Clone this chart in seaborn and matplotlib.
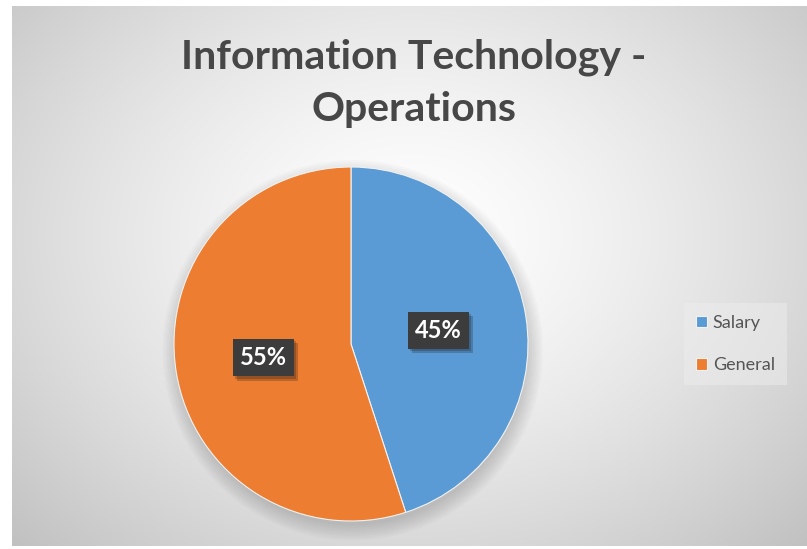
import numpy as np
import matplotlib
matplotlib.use("Agg")
import matplotlib.pyplot as plt
import seaborn as sns
from matplotlib.patches import Circle
import matplotlib.patheffects as pe

sns.set_style("white")
plt.rcParams["font.family"] = ["Lato", "DejaVu Sans"]

# data
categories = ["Salary", "General"]
shares = [45, 55]
colors = ["#5B9BD5", "#ED7D31"]
title_lines = ["Information Technology -", "Operations"]

W, H = 807, 549
fig = plt.figure(figsize=(W / 100, H / 100), dpi=100)
fig.patch.set_facecolor("white")

# radial gradient background (chart area)
bg = fig.add_axes([12 / W, 3 / H, (W - 12) / W, (H - 9) / H])
yy, xx = np.mgrid[0:400, 0:600]
cx, cy = 300, 170
r = np.sqrt(((xx - cx) / 430) ** 2 + ((yy - cy) / 330) ** 2)
g = np.clip(1.0 - 0.25 * r ** 1.4, 0.75, 1.0)
bg.imshow(np.dstack([g, g, g]), aspect="auto", extent=[0, 1, 0, 1], origin="upper")
bg.set_axis_off()

# pie
R = 177
pcx, pcy = 351, 344
ax = fig.add_axes([(pcx - R) / W, (H - pcy - R) / H, 2 * R / W, 2 * R / H])

wedges, texts, autotexts = ax.pie(
    shares, colors=colors, startangle=90, counterclock=False,
    radius=1.0, autopct="%1.0f%%", pctdistance=0.5,
    wedgeprops=dict(edgecolor="#F2F2F2", linewidth=0.8),
    textprops=dict(color="white", fontsize=17, fontweight="bold"),
)
# soft shadow under the pie
for k in range(8):
    ax.add_patch(Circle((0.01, -0.035), 0.99 + 0.012 * k, color="black",
                        alpha=0.02, lw=0, zorder=0, clip_on=False))
for t in autotexts:
    t.set_bbox(dict(boxstyle="square,pad=0.3", facecolor="#3C3C3C",
                    edgecolor="none",
                    path_effects=[pe.SimplePatchShadow(offset=(3, -3),
                                                       alpha=0.22),
                                  pe.SimplePatchShadow(offset=(1.5, -1.5),
                                                       alpha=0.22),
                                  pe.Normal()]))
ax.set_aspect("auto")
ax.set_xlim(-1.0, 1.0)
ax.set_ylim(-1.0, 1.0)
ax.set_axis_off()

for i, line in enumerate(title_lines):
    fig.text(414 / W, 1 - (69 + 52 * i) / H, line, ha="center", va="baseline",
             fontsize=29.5, fontweight="bold", color="#474747")

leg = fig.legend(wedges, categories, loc="center left",
                 bbox_to_anchor=(684 / W, 1 - 344 / H), frameon=True,
                 borderaxespad=0, fontsize=13, handlelength=0.62,
                 handleheight=0.62, handletextpad=0.3, labelspacing=1.45,
                 borderpad=0.67)
leg.get_frame().set_facecolor("#EDEDED")
leg.get_frame().set_edgecolor("none")
leg.get_frame().set_alpha(0.5)
leg.get_frame().set_boxstyle("square", pad=0)
for t in leg.get_texts():
    t.set_color("#555555")

fig.savefig("out.png", dpi=100)
